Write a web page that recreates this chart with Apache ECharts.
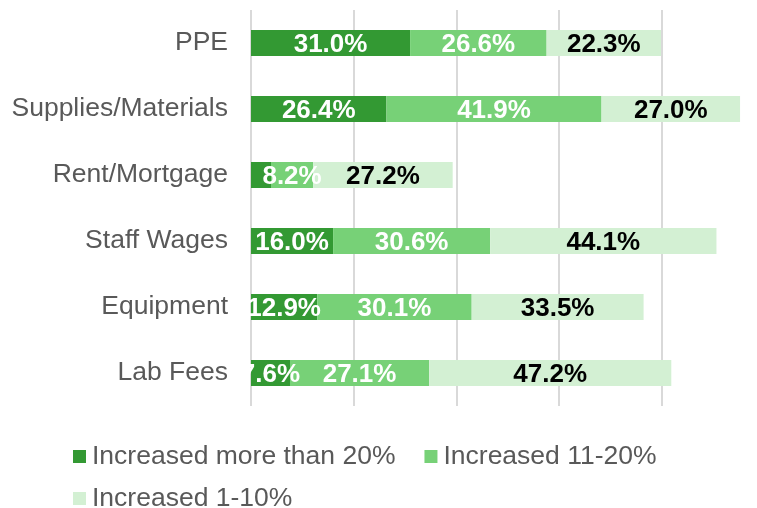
<!DOCTYPE html>
<html>
<head>
<meta charset="utf-8">
<script src="https://cdn.jsdelivr.net/npm/echarts@6/dist/echarts.min.js"></script>
<style>html,body{margin:0;padding:0;background:#fff}#c{width:757px;height:508px}</style>
</head>
<body>
<div id="c"></div>
<script>
const categories = ['Lab Fees', 'Equipment', 'Staff Wages', 'Rent/Mortgage', 'Supplies/Materials', 'PPE'];
const seriesNames = ['Increased more than 20%', 'Increased 11-20%', 'Increased 1-10%'];
const over20 = [7.6, 12.9, 16.0, 3.9, 26.4, 31.0];
const from11to20 = [27.1, 30.1, 30.6, 8.2, 41.9, 26.6];
const from1to10 = [47.2, 33.5, 44.1, 27.2, 27.0, 22.3];
const xTicks = [0, 20, 40, 60, 80];

const colors = ['#339933', '#77d177', '#d3f0d3'];
const labelColors = ['#ffffff', '#ffffff', '#000000'];
const FONT = 'Liberation Sans, Arial, sans-serif';

const chart = echarts.init(document.getElementById('c'));
const allData = [over20, from11to20, from1to10];
const series = allData.map((vals, i) => ({
  name: seriesNames[i],
  type: 'bar',
  stack: 'total',
  barWidth: 26,
  itemStyle: { color: colors[i] },
  label: {
    show: true,
    position: 'inside',
    offset: [0, 2],
    color: labelColors[i],
    fontFamily: FONT,
    fontWeight: 'bold',
    fontSize: 26,
    formatter: p => p.value.toFixed(1) + '%'
  },
  data: vals.map(v => v < 5 ? { value: v, label: { show: false } } : v)
}));

chart.setOption({
  animation: false,
  backgroundColor: '#ffffff',
  grid: { left: 251, top: 10, right: 0, height: 396, containLabel: false },
  xAxis: {
    type: 'value', min: xTicks[0], max: 98.6, interval: 20,
    axisLabel: { show: false }, axisLine: { show: false }, axisTick: { show: false },
    splitLine: { showMaxLine: false, lineStyle: { color: '#d9d9d9', width: 2 } }
  },
  yAxis: {
    type: 'category', data: categories,
    axisLine: { show: false }, axisTick: { show: false },
    axisLabel: { color: '#595959', fontFamily: FONT, fontSize: 26.5, margin: 23, padding: [4, 0, 0, 0] }
  },
  legend: [
    {
      data: seriesNames.slice(0, 2), left: 68, top: 438, itemWidth: 13, itemHeight: 13,
      itemGap: 29, icon: 'rect',
      textStyle: { color: '#595959', fontFamily: FONT, fontSize: 26.5, padding: [0, 0, 0, 1] }
    },
    {
      data: seriesNames.slice(2), left: 68, top: 480, itemWidth: 13, itemHeight: 13,
      icon: 'rect',
      textStyle: { color: '#595959', fontFamily: FONT, fontSize: 26.5, padding: [0, 0, 0, 1] }
    }
  ],
  graphic: [{
    type: 'rect', z: 100, silent: true,
    shape: { x: 229, y: 0, width: 21, height: 420 },
    style: { fill: '#ffffff' }
  }],
  series: series
});
</script>
</body>
</html>
